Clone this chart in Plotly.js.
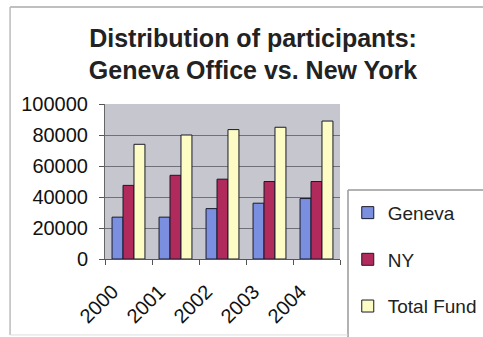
<!DOCTYPE html>
<html><head><meta charset="utf-8">
<script src="https://cdn.plot.ly/plotly-3.0.1.min.js"></script>
<style>html,body{margin:0;padding:0;background:#fff;}#c{width:483px;height:337px;}</style>
</head><body><div id="c"></div>
<script>
const years = ['2000','2001','2002','2003','2004'];
const geneva = [27000, 27000, 32500, 36000, 39000];
const ny = [47500, 54000, 51500, 50000, 50000];
const totalFund = [74000, 80000, 83500, 85000, 89000];
const seriesNames = ['Geneva', 'NY', 'Total Fund'];
const colors = ['#7b8fe0', '#b02a5c', '#fcfcc4'];

const vals = [geneva, ny, totalFund];
const traces = vals.map((v,i)=>({
  type:'bar', x: years, y: v, name: seriesNames[i], legendgroup: 'g'+i,
  marker:{color:colors[i], line:{color:'#1a1a2a', width:1}}
}));

const layout = {
  width:483, height:337,
  margin:{l:105, r:143, t:104, b:78},
  paper_bgcolor:'#ffffff', plot_bgcolor:'#c6c6ce',
  font:{family:'Liberation Sans, Arial, sans-serif', size:19, color:'#111'},
  title:{text:'<b>Distribution of participants:<br>Geneva Office vs. New York</b>',
    font:{size:25, color:'#222'}, x:0.63, xref:'paper', xanchor:'center', y:0.861, yref:'container', yanchor:'top'},
  barmode:'group', bargap:0.3, bargroupgap:0,
  showlegend:true,
  legend:{xref:'container', yref:'container', x:0.72, y:0.425, xanchor:'left', yanchor:'top',
    traceorder:'grouped', tracegroupgap:19, maxheight:300,
    font:{size:19, color:'#222'}, bgcolor:'rgba(0,0,0,0)', itemwidth:30},
  xaxis:{type:'category', tickangle:-45, ticks:'outside', ticklen:5, tickcolor:'#555', tickson:'boundaries',
    showgrid:false, showline:true, linecolor:'#555', tickfont:{size:20}, automargin:false,
    ticklabelstandoff:12, ticklabelshift:-16},
  yaxis:{range:[0,100000], tickvals:[0,20000,40000,60000,80000,100000], ticktext:['0','20000','40000','60000','80000','100000'],
    ticks:'outside', ticklen:5, tickcolor:'#555', showline:true, linecolor:'#666', gridcolor:'#707078', gridwidth:1,
    zeroline:false, tickfont:{size:20}, automargin:false, ticklabelstandoff:7},
  shapes:[
    {type:'line', xref:'paper', yref:'paper', x0:1.034, x1:1.7, y0:0.445, y1:0.445, line:{color:'#999', width:1.5}},
    {type:'line', xref:'paper', yref:'paper', x0:1.034, x1:1.034, y0:0.445, y1:-0.6, line:{color:'#999', width:1.5}},
    {type:'line', xref:'paper', yref:'paper', x0:-0.404, x1:1.7, y0:1.626, y1:1.626, line:{color:'#aaa', width:1.5}},
    {type:'line', xref:'paper', yref:'paper', x0:-0.404, x1:-0.404, y0:1.626, y1:-0.49, line:{color:'#bbb', width:1.5}},
    {type:'line', xref:'paper', yref:'paper', x0:-0.404, x1:1.034, y0:-0.49, y1:-0.49, line:{color:'#ddd', width:1}}
  ]
};
Plotly.newPlot('c', traces, layout, {displayModeBar:false, staticPlot:true});
</script></body></html>
